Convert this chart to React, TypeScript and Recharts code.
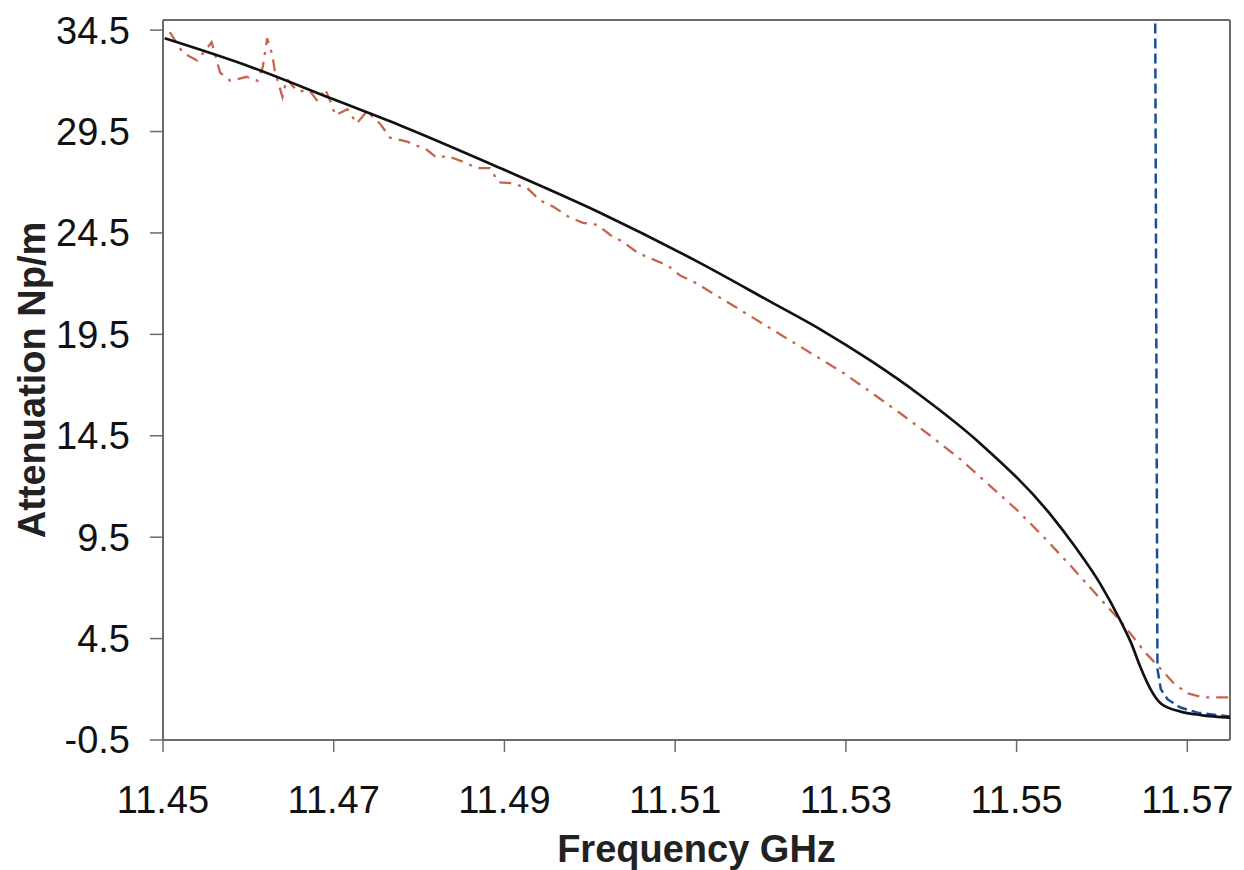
import { Line, LineChart, ReferenceLine, XAxis, YAxis } from 'recharts';

// measured (solid black) attenuation
const blackFreq = [
  11.4502, 11.4602, 11.4699, 11.4778, 11.4895, 11.5012, 11.513, 11.5212, 11.527, 11.5329, 11.5387, 11.5458,
  11.554, 11.5569, 11.5598, 11.5622, 11.5634, 11.5645, 11.5657, 11.5669, 11.5692, 11.5716, 11.5751,
];
const blackAtt = [
  34.1, 32.7, 31.1, 29.8, 27.7, 25.5, 23.0, 21.1, 19.75, 18.2, 16.5, 14.1, 10.6, 9.0, 7.2, 5.35, 4.3, 3.1, 2.0, 1.3,
  0.9, 0.73, 0.6,
];

// dash-dot red series (noisy at the low end)
const redFreq = [
  11.4508, 11.4523, 11.454, 11.4557, 11.4563, 11.4567, 11.4579, 11.4598, 11.4611, 11.4617, 11.4622, 11.4628,
  11.4631, 11.4635, 11.464, 11.4645, 11.4657, 11.4672, 11.4681, 11.469, 11.4696, 11.4702, 11.4716, 11.4727,
  11.4739, 11.4754, 11.4766, 11.4786, 11.4809, 11.4821, 11.4833, 11.4852, 11.4868, 11.4883, 11.4893, 11.4909,
  11.4927, 11.4942, 11.4957, 11.4975, 11.4992, 11.5009, 11.5024, 11.5039, 11.5057, 11.5074, 11.5091, 11.5106,
  11.5126, 11.5141, 11.5161, 11.5192, 11.5227, 11.5262, 11.5297, 11.5331, 11.5364, 11.5399, 11.5434, 11.5467,
  11.5499, 11.5532, 11.5563, 11.5593, 11.5623, 11.5651, 11.5669, 11.5684, 11.57, 11.5719, 11.5751,
];
const redAtt = [
  34.4, 33.4, 33.0, 33.9, 33.0, 32.4, 32.0, 32.2, 32.0, 32.7, 34.1, 33.3, 32.5, 31.9, 31.2, 32.1, 31.5, 31.5, 31.0,
  31.6, 31.0, 30.3, 30.6, 29.9, 30.5, 29.9, 29.2, 29.0, 28.6, 28.2, 28.3, 28.0, 27.7, 27.7, 27.0, 26.95, 26.7, 26.1,
  25.8, 25.3, 25.0, 24.9, 24.4, 24.05, 23.5, 23.2, 22.9, 22.4, 22.0, 21.6, 21.1, 20.3, 19.4, 18.5, 17.6, 16.6, 15.6,
  14.5, 13.35, 12.1, 10.9, 9.5, 8.1, 6.7, 5.3, 3.8, 3.0, 2.3, 1.8, 1.6, 1.6,
];

// blue dashed series: off the scale below cutoff, then drops
const blueFreq = [11.5662, 11.5665, 11.5669, 11.5677, 11.5692, 11.5712, 11.5751];
const blueAtt = [40, 3.0, 2.0, 1.5, 1.1, 0.85, 0.65];

const xTicks = [11.45, 11.47, 11.49, 11.51, 11.53, 11.55, 11.57];
const yTicks = [-0.5, 4.5, 9.5, 14.5, 19.5, 24.5, 29.5, 34.5];

const zip = (fs: number[], vs: number[]) => fs.map((f, i) => ({ f, v: vs[i] }));
const black = zip(blackFreq, blackAtt);
const red = zip(redFreq, redAtt);
const blue = zip(blueFreq, blueAtt);

const FONT = '"Liberation Sans", Arial, sans-serif';
const AXIS = '#6b6b6b';

export default function App() {
  const tickStyle = { fontSize: 38, fill: '#111', fontFamily: FONT };
  return (
    <div style={{ position: 'absolute', left: 0, top: 0, background: '#fff' }}>
      <LineChart width={1244} height={870} margin={{ top: 20, right: 14, bottom: 0, left: 0 }}>
        <XAxis
          type="number"
          dataKey="f"
          domain={[11.45, 11.575]}
          ticks={xTicks}
          allowDataOverflow
          tickFormatter={(v: number) => v.toFixed(2)}
          tick={tickStyle}
          tickSize={12}
          tickMargin={34}
          height={130}
          stroke={AXIS}
          strokeWidth={2}
          tickLine={{ stroke: AXIS, strokeWidth: 1.5 }}
          label={({ viewBox }: any) => (
            <text
              x={viewBox.x + viewBox.width / 2}
              y={viewBox.y + 122}
              textAnchor="middle"
              style={{ fontSize: 38, fontWeight: 'bold', fontFamily: FONT, fill: '#222' }}
            >
              Frequency GHz
            </text>
          )}
        />
        <YAxis
          type="number"
          domain={[-0.5, 35]}
          ticks={yTicks}
          allowDataOverflow
          tickFormatter={(v: number) => v.toFixed(1)}
          tick={tickStyle}
          tickSize={13}
          tickMargin={20}
          width={163}
          stroke={AXIS}
          strokeWidth={2}
          tickLine={{ stroke: AXIS, strokeWidth: 1.5 }}
          label={({ viewBox }: any) => (
            <text
              x={32}
              y={viewBox.y + viewBox.height / 2}
              transform={`rotate(-90, 32, ${viewBox.y + viewBox.height / 2})`}
              textAnchor="middle"
              dominantBaseline="central"
              style={{ fontSize: 38, fontWeight: 'bold', fontFamily: FONT, fill: '#222' }}
            >
              Attenuation Np/m
            </text>
          )}
        />
        <ReferenceLine y={35} stroke={AXIS} strokeWidth={2} />
        <ReferenceLine x={11.575} stroke={AXIS} strokeWidth={2} />
        <Line
          data={red}
          dataKey="v"
          type="linear"
          stroke="#c8644e"
          strokeWidth={2.3}
          strokeDasharray="12 7 3 7"
          dot={false}
          isAnimationActive={false}
        />
        <Line
          data={blue}
          dataKey="v"
          type="linear"
          stroke="#1a4c9a"
          strokeWidth={2.5}
          strokeDasharray="10 5"
          dot={false}
          isAnimationActive={false}
        />
        <Line
          data={black}
          dataKey="v"
          type="monotone"
          stroke="#111"
          strokeWidth={2.7}
          dot={false}
          isAnimationActive={false}
        />
      </LineChart>
    </div>
  );
}
